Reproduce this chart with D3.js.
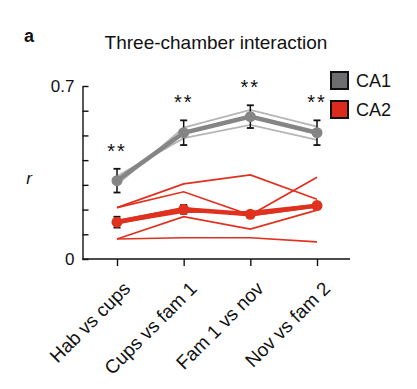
<!DOCTYPE html>
<meta charset="utf-8">
<head>
  <title>Three-chamber interaction</title>
  <script src="https://cdn.jsdelivr.net/npm/d3@7"></script>
  <style>
    body {margin: 0; background: #fff;}
    text {font-family: "Liberation Sans", Arial, sans-serif; fill: #111;}
  </style>
</head>
<body>
<div id="chart"></div>
<script>
// categories along the x axis
var comparisons = ["Hab vs cups", "Cups vs fam 1", "Fam 1 vs nov", "Nov vs fam 2"];

// CA1 mean and s.e.m.
var ca1Mean = [0.317, 0.511, 0.576, 0.511];
var ca1Err  = [0.048, 0.050, 0.046, 0.050];
// CA1 individual animals
var ca1Animals = [
  [0.300, 0.532, 0.603, 0.536],
  [0.335, 0.489, 0.543, 0.482]
];

// CA2 mean and s.e.m.
var ca2Mean = [0.149, 0.201, 0.181, 0.216];
var ca2Err  = [0.022, 0.018, 0.012, 0.012];
// CA2 individual animals
var ca2Animals = [
  [0.208, 0.304, 0.340, 0.242],
  [0.208, 0.272, 0.178, 0.331],
  [0.081, 0.171, 0.121, 0.198],
  [0.081, 0.086, 0.086, 0.069],
  [0.145, 0.190, 0.192, 0.220],
  [0.155, 0.207, 0.175, 0.212]
];

var stars = ["**", "**", "**", "**"];
var yTicks = [0, 0.1, 0.2, 0.3, 0.4, 0.5, 0.6, 0.7];
var legendItems = ["CA1", "CA2"];

var width = 417, height = 389;
var grey = "#858585", greyLight = "#b5b5b5", red = "#e0301e";

var svg = d3.select("#chart").append("svg")
  .attr("width", width)
  .attr("height", height);

var x = d3.scalePoint().domain(comparisons).range([117, 317]);
var y = d3.scaleLinear().domain([0, 0.7]).range([259, 86]);
var axisX0 = 82.5;

// panel letter + title
svg.append("text")
  .attr("x", 24).attr("y", 42)
  .style("font-size", "18px").style("font-weight", "bold")
  .text("a");

svg.append("text")
  .attr("x", 216).attr("y", 48.5)
  .attr("text-anchor", "middle")
  .style("font-size", "19px")
  .text("Three-chamber interaction");

// y axis, ticks pointing inward
var yAxis = d3.axisLeft(y)
  .tickValues(yTicks)
  .tickSize(-6)
  .tickSizeOuter(0)
  .tickPadding(8)
  .tickFormat(function(d){ return (d === 0 || d === 0.7) ? d3.format("")(d) : ""; });

var gy = svg.append("g")
  .attr("transform", "translate(" + axisX0 + ",0)")
  .call(yAxis);
gy.selectAll("path, line").attr("stroke", "#111").attr("stroke-width", 1.4);
gy.selectAll("text").style("font-size", "17px").attr("fill", "#111");

svg.append("text")
  .attr("x", 29).attr("y", 184)
  .attr("text-anchor", "middle")
  .style("font-size", "17px").style("font-style", "italic")
  .text("r");

// x axis
var xAxis = d3.axisBottom(x).tickSize(7).tickPadding(6);
var gx = svg.append("g")
  .attr("transform", "translate(0," + y(0) + ")")
  .call(xAxis);
gx.select(".domain").remove();
gx.append("line")
  .attr("x1", axisX0).attr("x2", 350)
  .attr("stroke", "#111").attr("stroke-width", 1.4);
gx.selectAll(".tick line").attr("stroke", "#111").attr("stroke-width", 1.4);
gx.selectAll(".tick text")
  .style("font-size", "19px")
  .attr("fill", "#111")
  .attr("text-anchor", "end")
  .attr("dy", "0.35em")
  .attr("transform", "translate(0,17) rotate(-45)");

var line = d3.line()
  .x(function(d, i){ return x(comparisons[i]); })
  .y(function(d){ return y(d); });

// individual animal lines
svg.append("g").selectAll("path")
  .data(ca1Animals).enter().append("path")
  .attr("d", line)
  .attr("fill", "none")
  .attr("stroke", greyLight)
  .attr("stroke-width", 1.8);

svg.append("g").selectAll("path")
  .data(ca2Animals).enter().append("path")
  .attr("d", line)
  .attr("fill", "none")
  .attr("stroke", red)
  .attr("stroke-width", 1.7);

// mean lines with error bars
function drawMean(mean, err, colour) {
  var g = svg.append("g");
  g.append("path")
    .datum(mean)
    .attr("d", line)
    .attr("fill", "none")
    .attr("stroke", colour)
    .attr("stroke-width", 4.5);

  var eb = g.selectAll(".eb").data(mean).enter().append("g");
  eb.append("line")
    .attr("x1", function(d, i){ return x(comparisons[i]); })
    .attr("x2", function(d, i){ return x(comparisons[i]); })
    .attr("y1", function(d, i){ return y(d - err[i]); })
    .attr("y2", function(d, i){ return y(d + err[i]); })
    .attr("stroke", "#111").attr("stroke-width", 1.5);
  [-1, 1].forEach(function(s){
    eb.append("line")
      .attr("x1", function(d, i){ return x(comparisons[i]) - 3.5; })
      .attr("x2", function(d, i){ return x(comparisons[i]) + 3.5; })
      .attr("y1", function(d, i){ return y(d + s * err[i]); })
      .attr("y2", function(d, i){ return y(d + s * err[i]); })
      .attr("stroke", "#111").attr("stroke-width", 1.8);
  });

  g.selectAll("circle").data(mean).enter().append("circle")
    .attr("cx", function(d, i){ return x(comparisons[i]); })
    .attr("cy", function(d){ return y(d); })
    .attr("r", 5.5)
    .attr("fill", colour);
}
drawMean(ca2Mean, ca2Err, red);
drawMean(ca1Mean, ca1Err, grey);

// significance stars
svg.append("g").selectAll("text")
  .data(stars).enter().append("text")
  .attr("x", function(d, i){ return x(comparisons[i]); })
  .attr("y", function(d, i){ return y(ca1Mean[i] + ca1Err[i]) - 11; })
  .attr("text-anchor", "middle")
  .style("font-size", "20px")
  .style("letter-spacing", "2px")
  .text(function(d){ return d; });

// legend
var leg = svg.append("g").selectAll("g")
  .data(legendItems).enter().append("g")
  .attr("transform", function(d, i){ return "translate(331," + (72 + i * 29) + ")"; });
leg.append("rect")
  .attr("width", 17).attr("height", 17)
  .attr("fill", function(d, i){ return i === 0 ? "#6e6e71" : "#dc2a1c"; })
  .attr("stroke", "#111").attr("stroke-width", 2);
leg.append("text")
  .attr("x", 25).attr("y", 15)
  .style("font-size", "18px")
  .text(function(d){ return d; });
</script>
</body>
</html>
